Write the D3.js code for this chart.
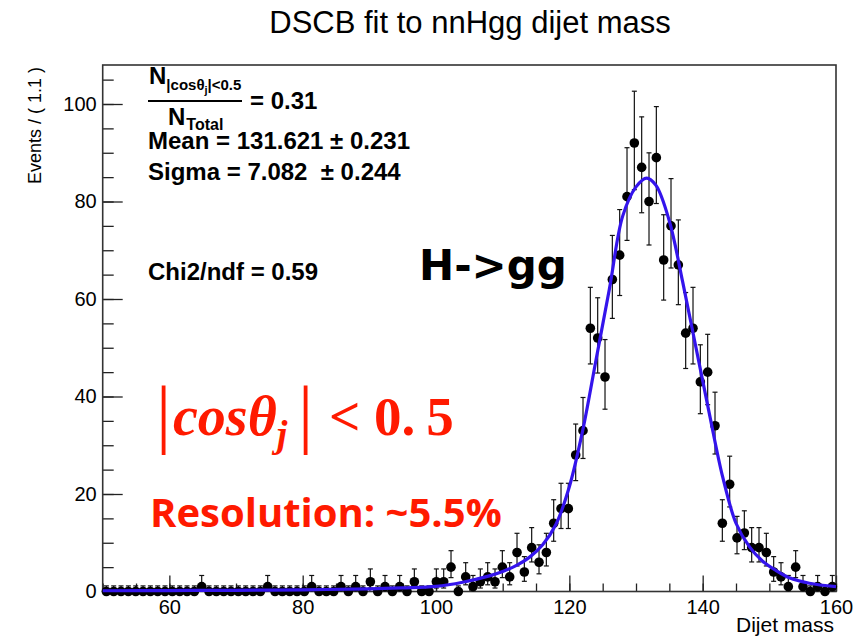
<!DOCTYPE html>
<html>
<head>
<meta charset="utf-8">
<script src="https://cdn.jsdelivr.net/npm/d3@7"></script>
<style>
  body { margin: 0; background: #fff; }
  svg { display: block; }
  text { font-family: "Liberation Sans", Arial, Helvetica, sans-serif; }
</style>
</head>
<body>
<svg id="chart" width="853" height="637"></svg>
<script>
// binning of the dijet mass histogram
const binLow = 50;
const binWidth = 1.1;

// events per bin (100 bins, 50..160)
const counts = [
  0, 0, 0, 0, 0, 0, 0, 0, 0, 0,
  0, 0, 0, 1, 0, 0, 0, 0, 0, 0,
  0, 0, 1, 0, 0, 0, 0, 0, 1, 0,
  0, 0, 1, 0, 1, 0, 2, 0, 1, 0,
  1, 0, 2, 0, 0, 2, 2, 5, 0, 3,
  1, 2, 3, 2, 5, 3, 8, 4, 9, 6,
  8, 14, 17, 17, 28, 33, 54, 52, 44, 64,
  69, 81, 92, 87, 80, 89, 68, 75, 67, 53,
  54, 43, 45, 34, 14, 22, 11, 12, 9, 9,
  8, 4, 3, 1, 5, 1, 0, 1, 0, 1
];

// DSCB fit curve, sampled off the plot
const curveMass = [50, 60, 70, 80, 90, 95, 100, 104, 108, 110, 112, 114, 116, 118, 120, 122, 124,
  126, 128, 130, 131.6, 133, 135, 137, 139, 141, 143, 145, 147, 149, 151, 153, 156, 160];
const curveEvents = [0.15, 0.2, 0.25, 0.35, 0.55, 0.75, 1.05, 1.9, 3.2, 4.1, 5.3, 7.0, 9.6, 13.8, 21.5, 33, 47.5,
  62, 77, 83, 84.8, 83.3, 76, 63.5, 50, 36.5, 23.5, 14, 9.2, 6.2, 4.3, 2.8, 1.7, 1.0];

const xTicks = [60, 80, 100, 120, 140, 160];
const yTicks = [0, 20, 40, 60, 80, 100];

const frame = { left: 102.7, right: 836, top: 65, bottom: 591.5 };

const svg = d3.select('#chart');

const x = d3.scaleLinear().domain([50, 160]).range([frame.left, frame.right]);
const y = d3.scaleLinear().domain([0, 108]).range([frame.bottom, frame.top]);

// Poisson 68% interval (RooFit style error bars)
function poissonInterval(n) {
  if (n === 0) return [0, 1.148];
  const lo = n * Math.pow(1 - 1 / (9 * n) - 1 / (3 * Math.sqrt(n)), 3);
  const m = n + 1;
  const hi = m * Math.pow(1 - 1 / (9 * m) + 1 / (3 * Math.sqrt(m)), 3);
  return [lo, hi];
}

const bins = counts.map((c, i) => {
  const [lo, hi] = poissonInterval(c);
  return { mass: binLow + binWidth * (i + 0.5), n: c, lo, hi };
});

// --- axes (ROOT style: ticks point into the frame)
const xMinor = d3.axisBottom(x).tickValues(d3.range(50, 161, 5)).tickSize(-8).tickFormat('');
const xMajor = d3.axisBottom(x).tickValues(xTicks).tickSize(-16).tickPadding(8);
const yMinor = d3.axisLeft(y).tickValues(d3.range(0, 108, 5)).tickSize(-11).tickFormat('');
const yMajor = d3.axisLeft(y).tickValues(yTicks).tickSize(-20).tickPadding(6);

[xMinor, xMajor].forEach(ax => {
  svg.append('g')
    .attr('class', 'x axis')
    .attr('transform', `translate(0,${frame.bottom})`)
    .call(ax);
});
[yMinor, yMajor].forEach(ax => {
  svg.append('g')
    .attr('class', 'y axis')
    .attr('transform', `translate(${frame.left},0)`)
    .call(ax);
});

svg.selectAll('.axis .domain').remove();
svg.selectAll('.axis .tick line').attr('stroke', '#222').attr('stroke-width', 1.3);
svg.selectAll('.axis .tick text')
  .attr('fill', '#000')
  .style('font-size', '20px')
  .style('font-family', '"Liberation Sans", Arial, sans-serif');

// frame
svg.append('rect')
  .attr('x', frame.left).attr('y', frame.top)
  .attr('width', frame.right - frame.left).attr('height', frame.bottom - frame.top)
  .attr('fill', 'none').attr('stroke', '#333').attr('stroke-width', 1.6);

// --- data points with error bars
const pts = svg.append('g').attr('class', 'data');
const bar = pts.selectAll('g.bin').data(bins).join('g').attr('class', 'bin');

bar.append('line')
  .attr('x1', d => x(d.mass)).attr('x2', d => x(d.mass))
  .attr('y1', d => y(d.lo)).attr('y2', d => y(d.hi))
  .attr('stroke', '#111').attr('stroke-width', 1.2);
bar.append('line')
  .attr('x1', d => x(d.mass) - 2.5).attr('x2', d => x(d.mass) + 2.5)
  .attr('y1', d => y(d.hi)).attr('y2', d => y(d.hi))
  .attr('stroke', '#111').attr('stroke-width', 1.2);
bar.append('line')
  .attr('x1', d => x(d.mass) - 2.5).attr('x2', d => x(d.mass) + 2.5)
  .attr('y1', d => y(d.lo)).attr('y2', d => y(d.lo))
  .attr('stroke', '#111').attr('stroke-width', 1.2);
bar.append('circle')
  .attr('cx', d => x(d.mass)).attr('cy', d => y(d.n))
  .attr('r', 4.8).attr('fill', '#000');

// --- fit curve on top
const line = d3.line()
  .x((d, i) => x(curveMass[i]))
  .y(d => y(d))
  .curve(d3.curveCatmullRom);

svg.append('path')
  .datum(curveEvents)
  .attr('d', line)
  .attr('fill', 'none')
  .attr('stroke', '#3414ec')
  .attr('stroke-width', 3.2);

// --- titles
svg.append('text')
  .attr('x', 470).attr('y', 33)
  .attr('text-anchor', 'middle')
  .style('font-size', '31px')
  .text('DSCB fit to nnHgg dijet mass');

svg.append('text')
  .attr('transform', 'translate(41,67) rotate(-90)')
  .attr('text-anchor', 'end')
  .style('font-size', '18px')
  .text('Events / ( 1.1 )');

svg.append('text')
  .attr('x', 834).attr('y', 632)
  .attr('text-anchor', 'end')
  .style('font-size', '21px')
  .text('Dijet mass');

// --- fit summary (bold)
const stats = svg.append('g').style('font-weight', 'bold').attr('fill', '#000');

const num = stats.append('text').attr('x', 149).attr('y', 84).style('font-size', '24px');
num.append('tspan').text('N');
num.append('tspan').attr('dy', 6).style('font-size', '15px').text('|cosθ');
num.append('tspan').attr('dy', 4).style('font-size', '11px').text('j');
num.append('tspan').attr('dy', -4).style('font-size', '15px').text('|<0.5');

stats.append('line')
  .attr('x1', 148).attr('x2', 242).attr('y1', 101).attr('y2', 101)
  .attr('stroke', '#000').attr('stroke-width', 2);

stats.append('text').attr('x', 250).attr('y', 109).style('font-size', '24px').text('= 0.31');

const den = stats.append('text').attr('x', 168).attr('y', 125).style('font-size', '24px');
den.append('tspan').text('N');
den.append('tspan').attr('dy', 5).attr('dx', 1).style('font-size', '16px').text('Total');

stats.append('text').attr('x', 148).attr('y', 149).style('font-size', '24px')
  .text('Mean = 131.621 ± 0.231');
stats.append('text').attr('x', 148).attr('y', 180).style('font-size', '24px')
  .attr('xml:space', 'preserve').style('white-space', 'pre')
  .text('Sigma = 7.082  ± 0.244');
stats.append('text').attr('x', 148).attr('y', 280).style('font-size', '24px')
  .text('Chi2/ndf = 0.59');

// --- slide annotations
svg.append('text')
  .attr('x', 419).attr('y', 280)
  .style('font-family', '"DejaVu Sans", sans-serif')
  .style('font-weight', 'bold')
  .style('font-size', '42px')
  .attr('fill', '#000')
  .text('H->gg');

const red = '#ff1a00';
const formula = svg.append('g').attr('fill', red);
formula.append('text').attr('x', 156).attr('y', 439)
  .style('font-family', '"Liberation Serif", serif').style('font-size', '76px').text('|');
const cosT = formula.append('text').attr('x', 173).attr('y', 435)
  .style('font-family', '"Liberation Serif", serif')
  .style('font-weight', 'bold').style('font-style', 'italic').style('font-size', '56px');
cosT.append('tspan').text('cosθ');
cosT.append('tspan').attr('dy', 12).style('font-size', '38px').text('j');
formula.append('text').attr('x', 298).attr('y', 439)
  .style('font-family', '"Liberation Serif", serif').style('font-size', '76px').text('|');
const lt = formula.append('text').attr('x', 329).attr('y', 435)
  .style('font-family', '"Liberation Serif", serif')
  .style('font-weight', 'bold').style('font-size', '55px');
lt.append('tspan').text('< 0.');
lt.append('tspan').attr('dx', 11).text('5');

svg.append('text')
  .attr('x', 150).attr('y', 527)
  .style('font-family', '"Open Sans", sans-serif')
  .style('font-weight', 'bold')
  .style('font-size', '40px')
  .attr('fill', red)
  .text('Resolution: ~5.5%');
</script>
</body>
</html>
